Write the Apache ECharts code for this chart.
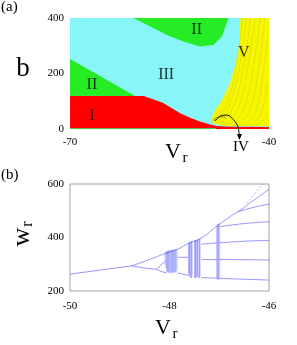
<!DOCTYPE html>
<html><head><meta charset="utf-8">
<script src="https://cdn.jsdelivr.net/npm/echarts@6/dist/echarts.min.js"></script>
<style>html,body{margin:0;padding:0;background:#fff}#c{width:297px;height:345px}</style>
</head><body><div id="c"></div>
<script>
// ---------- Panel (a): region map in (Vr, b) ----------
const aXTicks = [-70, -40];
const aYTicks = [0, 200, 400];
const regionIII = [[-70,0],[-70,400],[-40,400],[-40,0]];             // cyan background
const regionI = [[-70,0],[-70,120],[-58.9,119],[-56,95],[-53.4,57],[-51.8,40],[-50.4,27],[-49,17],[-47.9,11],[-46,8.5],[-40,7.5],[-40,0]];
const regionIIleft = [[-70,120],[-70,252],[-60.2,119]];
const regionIItop = [[-60.5,400],[-57.9,369],[-55.4,339],[-52.9,315],[-50.4,297],[-48.4,303],[-47.1,333],[-46.4,381],[-46.1,400]];
const regionIIbottom = [[-70,0],[-70,4],[-48,4],[-48,0]];
const regionV = [[-44.3,400],[-44.6,285],[-45.2,220],[-45.9,165],[-47.1,104],[-48.0,72],[-48.4,57],[-48.65,34],[-48.4,20],[-47.5,14],[-46,11],[-40,9.5],[-40,400]];
const fineCurves = [
  [[-48.3,28],[-47.2,55],[-46.0,115],[-45.0,220],[-44.0,400]],
  [[-48.0,24],[-46.8,50],[-45.6,110],[-44.5,220],[-43.4,400]],
  [[-47.6,20],[-46.3,45],[-45.0,105],[-43.9,220],[-42.8,400]],
  [[-47.0,17],[-45.6,40],[-44.3,100],[-43.2,220],[-42.1,400]],
  [[-46.3,15],[-44.8,36],[-43.5,95],[-42.4,220],[-41.3,400]],
  [[-45.5,13],[-43.9,32],[-42.6,90],[-41.6,220],[-40.6,400]],
  [[-44.6,12],[-43.0,28],[-41.8,80],[-40.9,200],[-40.2,330]],
  [[-43.6,11],[-42.2,24],[-41.0,70],[-40.3,160]],
  [[-42.6,10],[-41.4,20],[-40.4,50]]
];
const regionIVarc = [[-48.5,30],[-47.8,42],[-47.0,44],[-46.5,38]];
const regionLabels = [['I',-66.7,47],['II',-66.7,158],['III',-55.5,194],['II',-50.9,359],['V',-43.8,274]];
const arrowPath = [[-48.13,29],[-47.3,47],[-46.4,50],[-45.1,26],[-44.63,3],[-44.45,-36]];

// ---------- Panel (b): bifurcation diagram w_r vs V_r ----------
const bXTicks = [-50, -48, -46];
const bYTicks = [200, 400, 600];
const branches = [
  [[-50,263],[-48.76,294]],
  [[-48.76,294],[-48.4,318],[-48.09,340],[-47.84,356],[-47.62,378],[-47.36,398],[-47.05,442],[-46.8,476],[-46.62,497],[-46.3,540],[-46.0,581]],
  [[-48.76,294],[-48.5,286],[-48.26,281]],
  [[-48.26,281],[-48.18,296],[-48.09,310]],
  [[-48.26,281],[-48.15,272],[-48.05,268]],
  [[-47.84,326],[-47.62,326]],
  [[-47.84,268],[-47.62,258]],
  [[-47.36,375],[-47.05,380]],
  [[-47.36,318],[-47.05,317]],
  [[-47.36,250],[-47.05,248]],
  [[-46.62,497],[-46.3,513],[-46.0,525]],
  [[-47.0,440],[-46.5,452],[-46.0,459]],
  [[-47.0,380],[-46.5,386],[-46.0,389]],
  [[-47.0,318],[-46.0,316]],
  [[-47.0,247],[-46.5,244],[-46.0,241]]
];
const sparseBranch = [[-46.45,528],[-46.3,560],[-46.13,600]];
// chaotic bands: [Vr, w_low, w_high, darkness]
const chaosStrokes = [
  [-48.09,300,345,0.25],[-48.07,285,348,0.3],[-48.05,272,350,0.55],[-48.03,270,350,0.3],[-48.01,268,352,0.5],[-47.99,266,353,0.3],
  [-47.97,270,352,0.3],[-47.95,268,354,0.5],[-47.93,266,355,0.3],[-47.91,270,354,0.45],[-47.89,268,355,0.3],[-47.87,272,356,0.45],[-47.85,275,356,0.2],
  [-47.62,262,380,0.3],[-47.60,255,382,0.5],[-47.58,250,384,0.3],[-47.56,248,385,0.45],[-47.54,252,386,0.2],
  [-47.50,250,389,0.3],[-47.48,248,390,0.5],[-47.46,250,391,0.3],[-47.44,252,392,0.45],[-47.42,250,394,0.2],[-47.40,248,396,0.45],[-47.38,252,397,0.2],
  [-47.05,245,445,0.3],[-47.03,242,450,0.5],[-47.01,242,452,0.35],[-46.99,245,453,0.2]
];

const serif = 'Liberation Serif';
function polySeries(pts, color, z) {
  return {
    type: 'custom', xAxisIndex: 0, yAxisIndex: 0, z: z, silent: true,
    data: [0],
    renderItem: function (params, api) {
      return { type: 'polygon', shape: { points: pts.map(p => api.coord(p)) }, style: { fill: color } };
    }
  };
}

const series = [
  polySeries(regionIII, '#88f6f8', 1),
  polySeries(regionI, '#fe0000', 2),
  polySeries(regionIIleft, '#26ec26', 2),
  polySeries(regionIItop, '#26ec26', 2),
  polySeries(regionIIbottom, '#4cc83c', 3),
  polySeries(regionV, '#f6f600', 3)
];
fineCurves.forEach(c => series.push({
  type: 'line', xAxisIndex: 0, yAxisIndex: 0, data: c, smooth: true, showSymbol: false, silent: true, z: 4,
  lineStyle: { color: 'rgba(70,70,0,0.45)', width: 0.6, type: [1, 1.5] }
}));
series.push({
  type: 'line', xAxisIndex: 0, yAxisIndex: 0, data: regionIVarc, smooth: true, showSymbol: false, silent: true, z: 5,
  lineStyle: { color: 'rgba(40,40,0,0.6)', width: 0.8 }
});
series.push({
  type: 'scatter', xAxisIndex: 0, yAxisIndex: 0, symbolSize: 0, z: 6, silent: true,
  data: regionLabels.map(r => ({ value: [r[1], r[2]], label: { formatter: r[0] } })),
  label: { show: true, position: 'inside', color: '#000', fontFamily: serif, fontSize: 16 }
});
series.push({
  type: 'line', xAxisIndex: 0, yAxisIndex: 0, data: arrowPath, smooth: 0.4, showSymbol: false, silent: true, z: 7,
  clip: false, lineStyle: { color: '#000', width: 1 }
});
branches.forEach(b => series.push({
  type: 'line', xAxisIndex: 1, yAxisIndex: 1, data: b, smooth: true, showSymbol: false, silent: true,
  lineStyle: { color: 'rgba(60,60,255,0.55)', width: 1 }
}));
series.push({
  type: 'line', xAxisIndex: 1, yAxisIndex: 1, data: sparseBranch, smooth: true, showSymbol: false, silent: true,
  lineStyle: { color: 'rgba(60,60,255,0.4)', width: 1, type: [2, 2] }
});
series.push({
  type: 'custom', xAxisIndex: 1, yAxisIndex: 1, silent: true, data: chaosStrokes,
  renderItem: function (params, api) {
    const p1 = api.coord([api.value(0), api.value(1)]);
    const p2 = api.coord([api.value(0), api.value(2)]);
    return { type: 'line', shape: { x1: p1[0], y1: p1[1], x2: p2[0], y2: p2[1] },
      style: { stroke: 'rgba(30,30,255,' + api.value(3) + ')', lineWidth: 1 } };
  }
});

const chart = echarts.init(document.getElementById('c'), null, { renderer: 'canvas' });
const axisLabelStyle = { color: '#000', fontFamily: serif, fontSize: 11 };
chart.setOption({
  animation: false,
  grid: [
    { left: 70, top: 18, width: 199, height: 111, show: false },
    { left: 70, top: 184, width: 199, height: 107, show: true, borderColor: '#a0a0a0', borderWidth: 1 }
  ],
  xAxis: [
    { gridIndex: 0, type: 'value', min: aXTicks[0], max: aXTicks[1], interval: 30,
      axisLine: { show: false }, axisTick: { show: false }, splitLine: { show: false },
      axisLabel: Object.assign({ margin: 8 }, axisLabelStyle) },
    { gridIndex: 1, type: 'value', min: bXTicks[0], max: bXTicks[2], interval: 2,
      axisLine: { show: false }, axisTick: { show: false }, splitLine: { show: false },
      axisLabel: Object.assign({ margin: 10 }, axisLabelStyle) }
  ],
  yAxis: [
    { gridIndex: 0, type: 'value', min: aYTicks[0], max: aYTicks[2], interval: 200,
      axisLine: { show: false }, axisTick: { show: false }, splitLine: { show: false },
      axisLabel: Object.assign({ margin: 6 }, axisLabelStyle) },
    { gridIndex: 1, type: 'value', min: bYTicks[0], max: bYTicks[2], interval: 200,
      axisLine: { show: false }, axisTick: { show: false }, splitLine: { show: false },
      axisLabel: Object.assign({ margin: 6 }, axisLabelStyle) }
  ],
  graphic: [
    { id: 'ta', type: 'text', left: 1, top: 0, style: { text: '(a)', fontFamily: serif, fontSize: 15, fill: '#000' } },
    { id: 'tb', type: 'text', left: 1, top: 168, style: { text: '(b)', fontFamily: serif, fontSize: 15, fill: '#000' } },
    { id: 'yb', type: 'text', x: 23, y: 69, style: { text: 'b', fontFamily: serif, fontSize: 27, fill: '#000', align: 'center', verticalAlign: 'middle' } },
    { id: 'xa1', type: 'text', x: 173, y: 152, style: { text: 'V', fontFamily: serif, fontSize: 22, fill: '#000', align: 'center', verticalAlign: 'middle' } },
    { id: 'xa2', type: 'text', x: 185, y: 158, style: { text: 'r', fontFamily: serif, fontSize: 15, fill: '#000', align: 'center', verticalAlign: 'middle' } },
    { id: 'xb1', type: 'text', x: 163, y: 328, style: { text: 'V', fontFamily: serif, fontSize: 22, fill: '#000', align: 'center', verticalAlign: 'middle' } },
    { id: 'xb2', type: 'text', x: 175, y: 334, style: { text: 'r', fontFamily: serif, fontSize: 15, fill: '#000', align: 'center', verticalAlign: 'middle' } },
    { id: 'yw1', type: 'text', x: 22, y: 237, rotation: Math.PI / 2, style: { text: 'w', fontFamily: serif, fontSize: 26, fill: '#000', align: 'center', verticalAlign: 'middle' } },
    { id: 'yw2', type: 'text', x: 28, y: 224, rotation: Math.PI / 2, style: { text: 'r', fontFamily: serif, fontSize: 16, fill: '#000', align: 'center', verticalAlign: 'middle' } },
    { id: 'iv', type: 'text', x: 241, y: 147, style: { text: 'IV', fontFamily: serif, fontSize: 15, fill: '#000', align: 'center', verticalAlign: 'middle' } }
  ],
  series: series
});
// arrow head at the end of the IV pointer
const tip = chart.convertToPixel({ gridIndex: 0 }, arrowPath[arrowPath.length - 1]);
chart.setOption({ graphic: [{ id: 'arrowhead', type: 'polygon', shape: { points: [[tip[0] - 2.5, tip[1] - 5], [tip[0] + 2.5, tip[1] - 5], [tip[0], tip[1] + 1]] }, style: { fill: '#000' }, z: 100 }] });
</script></body></html>
